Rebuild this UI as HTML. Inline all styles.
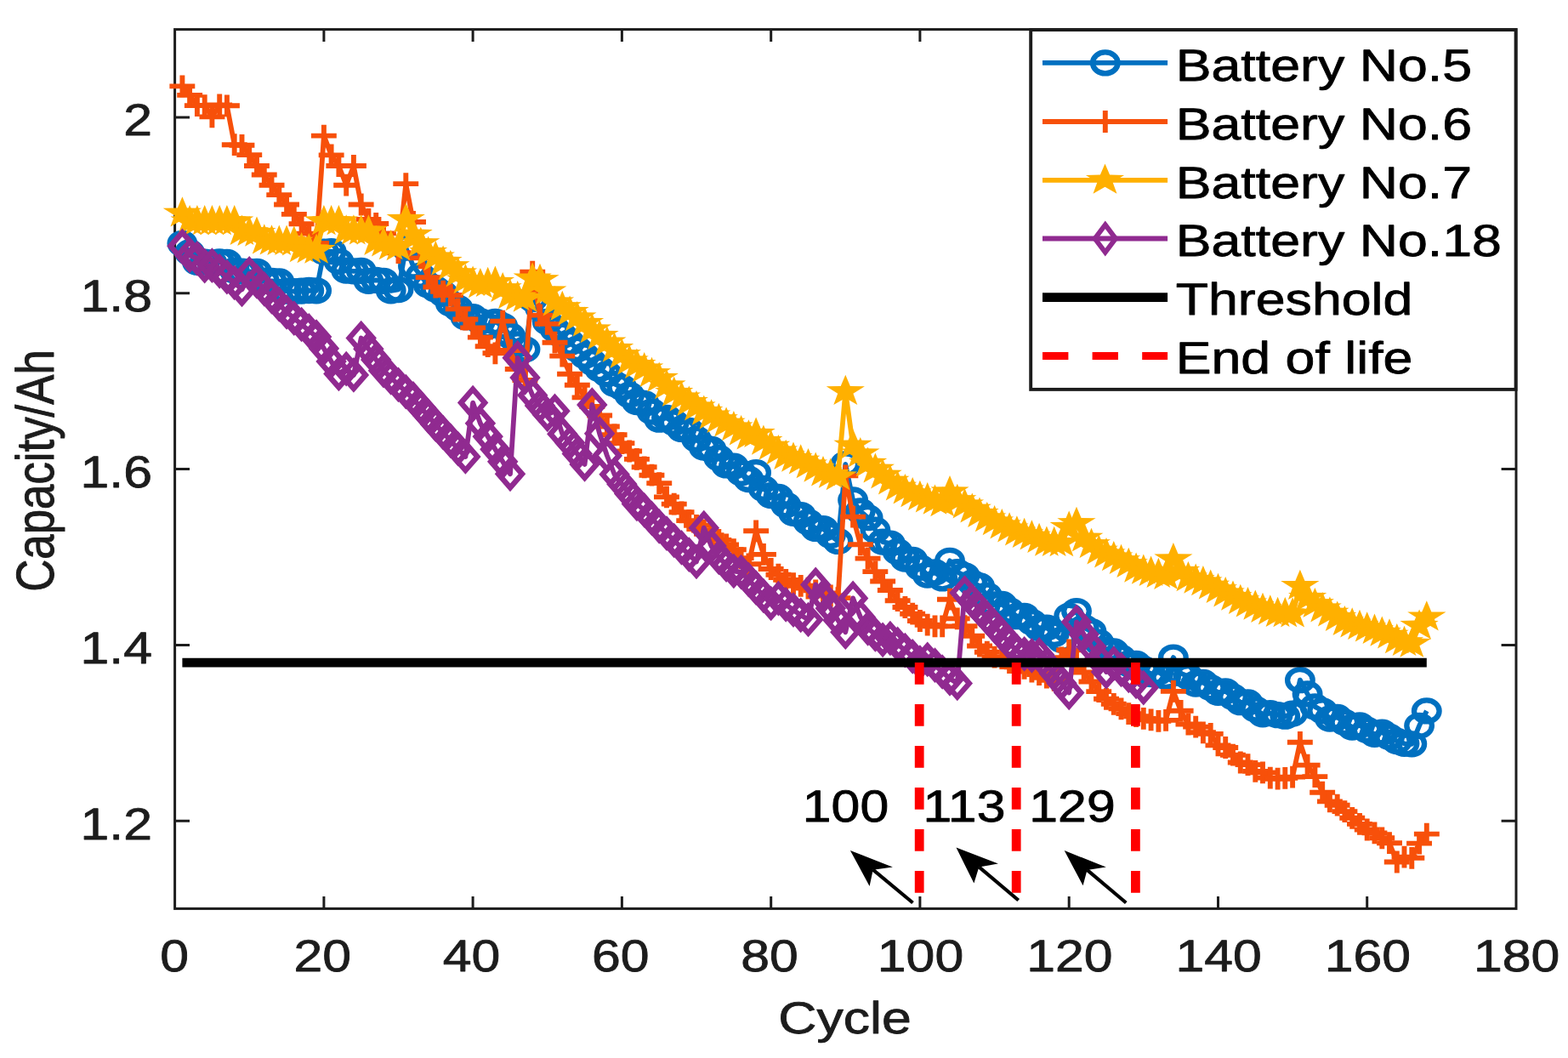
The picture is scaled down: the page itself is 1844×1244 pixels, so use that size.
<!DOCTYPE html>
<html lang="en"><head><meta charset="utf-8"><title>Battery capacity degradation</title>
<style>html,body{margin:0;padding:0;background:#fff;overflow:hidden}svg{display:block}text{font-family:"Liberation Sans",Arial,Helvetica,sans-serif;fill:#1c1c1c;stroke:#1c1c1c;stroke-width:0.8px;stroke-linejoin:round;text-rendering:geometricPrecision}text.k{fill:#000;stroke:#000}</style></head><body>
<svg width="1844" height="1244" viewBox="0 0 1844 1244">
<rect x="0" y="0" width="1844" height="1244" fill="#fff"/>
<g fill="none" stroke="#1c1c1c" stroke-width="3.0" stroke-linecap="butt">
<rect x="205.6" y="34.6" width="1577.4" height="1033.8"/>
<path d="M380.9 1068.4v-14.4M380.9 34.6v14.4M556.1 1068.4v-14.4M556.1 34.6v14.4M731.4 1068.4v-14.4M731.4 34.6v14.4M906.7 1068.4v-14.4M906.7 34.6v14.4M1081.9 1068.4v-14.4M1081.9 34.6v14.4M1257.2 1068.4v-14.4M1257.2 34.6v14.4M1432.5 1068.4v-14.4M1432.5 34.6v14.4M1607.7 1068.4v-14.4M1607.7 34.6v14.4M205.6 965.3h17.4M1783 965.3h-17.4M205.6 758.5h17.4M1783 758.5h-17.4M205.6 551.6h17.4M1783 551.6h-17.4M205.6 344.7h17.4M1783 344.7h-17.4M205.6 137.9h17.4M1783 137.9h-17.4"/>
</g>
<g fill="none" stroke="#0070C0" stroke-miterlimit="10">
<polyline stroke-width="5.8" stroke-linejoin="round" points="214.4,286.3 223.1,296.9 231.9,308.2 240.7,308.2 249.4,309 258.2,307.8 266.9,308.4 275.7,318.1 284.5,319.1 293.2,319.3 302,319.3 310.8,330.1 319.5,330.5 328.3,330.9 337.1,342.1 345.8,342.6 354.6,342.1 363.3,341.5 372.1,341.8 380.9,296.1 389.6,295.7 398.4,307.3 407.2,318.1 415.9,318.8 424.7,318.3 433.4,330.3 442.2,329.4 451,330.3 459.7,341.8 468.5,340.5 477.3,291.2 486,313 494.8,324.2 503.6,335.1 512.3,340 521.1,345.4 529.8,356.7 538.6,362.4 547.4,372.7 556.1,372.7 564.9,377.9 573.7,383.7 582.4,378.3 591.2,383.3 600,394.7 608.7,404.8 617.5,410.8 626.2,351.4 635,362.1 643.8,378.5 652.5,387.1 661.3,394.4 670.1,402.7 678.8,410.4 687.6,418.2 696.3,425.9 705.1,433.7 713.9,439.7 722.6,451.3 731.4,455.6 740.2,464.3 748.9,472.5 757.7,474.4 766.5,484 775.2,493.2 784,491.3 792.7,497.1 801.5,504.4 810.3,506.5 819,516.3 827.8,525.9 836.6,528.4 845.3,538.5 854.1,546.9 862.9,548.2 871.6,556.1 880.4,563.5 889.1,555.7 897.9,574.4 906.7,582.6 915.4,584.4 924.2,593.8 933,603.3 941.7,605.6 950.5,613.8 959.2,621.4 968,621.6 976.8,629.5 985.5,636.4 994.3,545.8 1003.1,588 1011.8,601 1020.6,608.7 1029.4,623.2 1038.1,637.1 1046.9,639.1 1055.6,648.7 1064.4,657.1 1073.2,658.3 1081.9,667.3 1090.7,676.1 1099.5,673 1108.2,679.9 1117,659.3 1125.8,672.6 1134.5,676.8 1143.3,685.3 1152,688.9 1160.8,700.1 1169.6,710.9 1178.3,710.5 1187.1,717.8 1195.9,724.7 1204.6,724.3 1213.4,731.6 1222.1,738.5 1230.9,738.1 1239.7,745.4 1248.4,752.3 1257.2,724.3 1266,718.6 1274.7,737.8 1283.5,742.6 1292.3,755.2 1301,764.1 1309.8,765.9 1318.5,773.5 1327.3,780.5 1336.1,780.4 1344.8,786.7 1353.6,792.6 1362.4,790.2 1371.1,795.5 1379.9,773.1 1388.6,791.6 1397.4,795.5 1406.2,804 1414.9,802.4 1423.7,808.6 1432.5,814.3 1441.2,812.8 1450,819.5 1458.8,825.7 1467.5,825.9 1476.3,833.8 1485,839.8 1493.8,838.6 1502.6,840.7 1511.3,842.2 1520.1,839.1 1528.9,799.7 1537.6,815.9 1546.4,830.9 1555.2,835.8 1563.9,845.1 1572.7,843.4 1581.4,849.5 1590.2,855 1599,852.8 1607.7,858.4 1616.5,863.3 1625.3,861.1 1634,866.5 1642.8,871.5 1651.5,874.3 1660.3,874.8 1669.1,853.3 1677.8,835.9"/>
<g stroke-width="6.3">
<ellipse cx="214.4" cy="286.3" rx="14.8" ry="12.5"/>
<ellipse cx="223.1" cy="296.9" rx="14.8" ry="12.5"/>
<ellipse cx="231.9" cy="308.2" rx="14.8" ry="12.5"/>
<ellipse cx="240.7" cy="308.2" rx="14.8" ry="12.5"/>
<ellipse cx="249.4" cy="309" rx="14.8" ry="12.5"/>
<ellipse cx="258.2" cy="307.8" rx="14.8" ry="12.5"/>
<ellipse cx="266.9" cy="308.4" rx="14.8" ry="12.5"/>
<ellipse cx="275.7" cy="318.1" rx="14.8" ry="12.5"/>
<ellipse cx="284.5" cy="319.1" rx="14.8" ry="12.5"/>
<ellipse cx="293.2" cy="319.3" rx="14.8" ry="12.5"/>
<ellipse cx="302" cy="319.3" rx="14.8" ry="12.5"/>
<ellipse cx="310.8" cy="330.1" rx="14.8" ry="12.5"/>
<ellipse cx="319.5" cy="330.5" rx="14.8" ry="12.5"/>
<ellipse cx="328.3" cy="330.9" rx="14.8" ry="12.5"/>
<ellipse cx="337.1" cy="342.1" rx="14.8" ry="12.5"/>
<ellipse cx="345.8" cy="342.6" rx="14.8" ry="12.5"/>
<ellipse cx="354.6" cy="342.1" rx="14.8" ry="12.5"/>
<ellipse cx="363.3" cy="341.5" rx="14.8" ry="12.5"/>
<ellipse cx="372.1" cy="341.8" rx="14.8" ry="12.5"/>
<ellipse cx="380.9" cy="296.1" rx="14.8" ry="12.5"/>
<ellipse cx="389.6" cy="295.7" rx="14.8" ry="12.5"/>
<ellipse cx="398.4" cy="307.3" rx="14.8" ry="12.5"/>
<ellipse cx="407.2" cy="318.1" rx="14.8" ry="12.5"/>
<ellipse cx="415.9" cy="318.8" rx="14.8" ry="12.5"/>
<ellipse cx="424.7" cy="318.3" rx="14.8" ry="12.5"/>
<ellipse cx="433.4" cy="330.3" rx="14.8" ry="12.5"/>
<ellipse cx="442.2" cy="329.4" rx="14.8" ry="12.5"/>
<ellipse cx="451" cy="330.3" rx="14.8" ry="12.5"/>
<ellipse cx="459.7" cy="341.8" rx="14.8" ry="12.5"/>
<ellipse cx="468.5" cy="340.5" rx="14.8" ry="12.5"/>
<ellipse cx="477.3" cy="291.2" rx="14.8" ry="12.5"/>
<ellipse cx="486" cy="313" rx="14.8" ry="12.5"/>
<ellipse cx="494.8" cy="324.2" rx="14.8" ry="12.5"/>
<ellipse cx="503.6" cy="335.1" rx="14.8" ry="12.5"/>
<ellipse cx="512.3" cy="340" rx="14.8" ry="12.5"/>
<ellipse cx="521.1" cy="345.4" rx="14.8" ry="12.5"/>
<ellipse cx="529.8" cy="356.7" rx="14.8" ry="12.5"/>
<ellipse cx="538.6" cy="362.4" rx="14.8" ry="12.5"/>
<ellipse cx="547.4" cy="372.7" rx="14.8" ry="12.5"/>
<ellipse cx="556.1" cy="372.7" rx="14.8" ry="12.5"/>
<ellipse cx="564.9" cy="377.9" rx="14.8" ry="12.5"/>
<ellipse cx="573.7" cy="383.7" rx="14.8" ry="12.5"/>
<ellipse cx="582.4" cy="378.3" rx="14.8" ry="12.5"/>
<ellipse cx="591.2" cy="383.3" rx="14.8" ry="12.5"/>
<ellipse cx="600" cy="394.7" rx="14.8" ry="12.5"/>
<ellipse cx="608.7" cy="404.8" rx="14.8" ry="12.5"/>
<ellipse cx="617.5" cy="410.8" rx="14.8" ry="12.5"/>
<ellipse cx="626.2" cy="351.4" rx="14.8" ry="12.5"/>
<ellipse cx="635" cy="362.1" rx="14.8" ry="12.5"/>
<ellipse cx="643.8" cy="378.5" rx="14.8" ry="12.5"/>
<ellipse cx="652.5" cy="387.1" rx="14.8" ry="12.5"/>
<ellipse cx="661.3" cy="394.4" rx="14.8" ry="12.5"/>
<ellipse cx="670.1" cy="402.7" rx="14.8" ry="12.5"/>
<ellipse cx="678.8" cy="410.4" rx="14.8" ry="12.5"/>
<ellipse cx="687.6" cy="418.2" rx="14.8" ry="12.5"/>
<ellipse cx="696.3" cy="425.9" rx="14.8" ry="12.5"/>
<ellipse cx="705.1" cy="433.7" rx="14.8" ry="12.5"/>
<ellipse cx="713.9" cy="439.7" rx="14.8" ry="12.5"/>
<ellipse cx="722.6" cy="451.3" rx="14.8" ry="12.5"/>
<ellipse cx="731.4" cy="455.6" rx="14.8" ry="12.5"/>
<ellipse cx="740.2" cy="464.3" rx="14.8" ry="12.5"/>
<ellipse cx="748.9" cy="472.5" rx="14.8" ry="12.5"/>
<ellipse cx="757.7" cy="474.4" rx="14.8" ry="12.5"/>
<ellipse cx="766.5" cy="484" rx="14.8" ry="12.5"/>
<ellipse cx="775.2" cy="493.2" rx="14.8" ry="12.5"/>
<ellipse cx="784" cy="491.3" rx="14.8" ry="12.5"/>
<ellipse cx="792.7" cy="497.1" rx="14.8" ry="12.5"/>
<ellipse cx="801.5" cy="504.4" rx="14.8" ry="12.5"/>
<ellipse cx="810.3" cy="506.5" rx="14.8" ry="12.5"/>
<ellipse cx="819" cy="516.3" rx="14.8" ry="12.5"/>
<ellipse cx="827.8" cy="525.9" rx="14.8" ry="12.5"/>
<ellipse cx="836.6" cy="528.4" rx="14.8" ry="12.5"/>
<ellipse cx="845.3" cy="538.5" rx="14.8" ry="12.5"/>
<ellipse cx="854.1" cy="546.9" rx="14.8" ry="12.5"/>
<ellipse cx="862.9" cy="548.2" rx="14.8" ry="12.5"/>
<ellipse cx="871.6" cy="556.1" rx="14.8" ry="12.5"/>
<ellipse cx="880.4" cy="563.5" rx="14.8" ry="12.5"/>
<ellipse cx="889.1" cy="555.7" rx="14.8" ry="12.5"/>
<ellipse cx="897.9" cy="574.4" rx="14.8" ry="12.5"/>
<ellipse cx="906.7" cy="582.6" rx="14.8" ry="12.5"/>
<ellipse cx="915.4" cy="584.4" rx="14.8" ry="12.5"/>
<ellipse cx="924.2" cy="593.8" rx="14.8" ry="12.5"/>
<ellipse cx="933" cy="603.3" rx="14.8" ry="12.5"/>
<ellipse cx="941.7" cy="605.6" rx="14.8" ry="12.5"/>
<ellipse cx="950.5" cy="613.8" rx="14.8" ry="12.5"/>
<ellipse cx="959.2" cy="621.4" rx="14.8" ry="12.5"/>
<ellipse cx="968" cy="621.6" rx="14.8" ry="12.5"/>
<ellipse cx="976.8" cy="629.5" rx="14.8" ry="12.5"/>
<ellipse cx="985.5" cy="636.4" rx="14.8" ry="12.5"/>
<ellipse cx="994.3" cy="545.8" rx="14.8" ry="12.5"/>
<ellipse cx="1003.1" cy="588" rx="14.8" ry="12.5"/>
<ellipse cx="1011.8" cy="601" rx="14.8" ry="12.5"/>
<ellipse cx="1020.6" cy="608.7" rx="14.8" ry="12.5"/>
<ellipse cx="1029.4" cy="623.2" rx="14.8" ry="12.5"/>
<ellipse cx="1038.1" cy="637.1" rx="14.8" ry="12.5"/>
<ellipse cx="1046.9" cy="639.1" rx="14.8" ry="12.5"/>
<ellipse cx="1055.6" cy="648.7" rx="14.8" ry="12.5"/>
<ellipse cx="1064.4" cy="657.1" rx="14.8" ry="12.5"/>
<ellipse cx="1073.2" cy="658.3" rx="14.8" ry="12.5"/>
<ellipse cx="1081.9" cy="667.3" rx="14.8" ry="12.5"/>
<ellipse cx="1090.7" cy="676.1" rx="14.8" ry="12.5"/>
<ellipse cx="1099.5" cy="673" rx="14.8" ry="12.5"/>
<ellipse cx="1108.2" cy="679.9" rx="14.8" ry="12.5"/>
<ellipse cx="1117" cy="659.3" rx="14.8" ry="12.5"/>
<ellipse cx="1125.8" cy="672.6" rx="14.8" ry="12.5"/>
<ellipse cx="1134.5" cy="676.8" rx="14.8" ry="12.5"/>
<ellipse cx="1143.3" cy="685.3" rx="14.8" ry="12.5"/>
<ellipse cx="1152" cy="688.9" rx="14.8" ry="12.5"/>
<ellipse cx="1160.8" cy="700.1" rx="14.8" ry="12.5"/>
<ellipse cx="1169.6" cy="710.9" rx="14.8" ry="12.5"/>
<ellipse cx="1178.3" cy="710.5" rx="14.8" ry="12.5"/>
<ellipse cx="1187.1" cy="717.8" rx="14.8" ry="12.5"/>
<ellipse cx="1195.9" cy="724.7" rx="14.8" ry="12.5"/>
<ellipse cx="1204.6" cy="724.3" rx="14.8" ry="12.5"/>
<ellipse cx="1213.4" cy="731.6" rx="14.8" ry="12.5"/>
<ellipse cx="1222.1" cy="738.5" rx="14.8" ry="12.5"/>
<ellipse cx="1230.9" cy="738.1" rx="14.8" ry="12.5"/>
<ellipse cx="1239.7" cy="745.4" rx="14.8" ry="12.5"/>
<ellipse cx="1248.4" cy="752.3" rx="14.8" ry="12.5"/>
<ellipse cx="1257.2" cy="724.3" rx="14.8" ry="12.5"/>
<ellipse cx="1266" cy="718.6" rx="14.8" ry="12.5"/>
<ellipse cx="1274.7" cy="737.8" rx="14.8" ry="12.5"/>
<ellipse cx="1283.5" cy="742.6" rx="14.8" ry="12.5"/>
<ellipse cx="1292.3" cy="755.2" rx="14.8" ry="12.5"/>
<ellipse cx="1301" cy="764.1" rx="14.8" ry="12.5"/>
<ellipse cx="1309.8" cy="765.9" rx="14.8" ry="12.5"/>
<ellipse cx="1318.5" cy="773.5" rx="14.8" ry="12.5"/>
<ellipse cx="1327.3" cy="780.5" rx="14.8" ry="12.5"/>
<ellipse cx="1336.1" cy="780.4" rx="14.8" ry="12.5"/>
<ellipse cx="1344.8" cy="786.7" rx="14.8" ry="12.5"/>
<ellipse cx="1353.6" cy="792.6" rx="14.8" ry="12.5"/>
<ellipse cx="1362.4" cy="790.2" rx="14.8" ry="12.5"/>
<ellipse cx="1371.1" cy="795.5" rx="14.8" ry="12.5"/>
<ellipse cx="1379.9" cy="773.1" rx="14.8" ry="12.5"/>
<ellipse cx="1388.6" cy="791.6" rx="14.8" ry="12.5"/>
<ellipse cx="1397.4" cy="795.5" rx="14.8" ry="12.5"/>
<ellipse cx="1406.2" cy="804" rx="14.8" ry="12.5"/>
<ellipse cx="1414.9" cy="802.4" rx="14.8" ry="12.5"/>
<ellipse cx="1423.7" cy="808.6" rx="14.8" ry="12.5"/>
<ellipse cx="1432.5" cy="814.3" rx="14.8" ry="12.5"/>
<ellipse cx="1441.2" cy="812.8" rx="14.8" ry="12.5"/>
<ellipse cx="1450" cy="819.5" rx="14.8" ry="12.5"/>
<ellipse cx="1458.8" cy="825.7" rx="14.8" ry="12.5"/>
<ellipse cx="1467.5" cy="825.9" rx="14.8" ry="12.5"/>
<ellipse cx="1476.3" cy="833.8" rx="14.8" ry="12.5"/>
<ellipse cx="1485" cy="839.8" rx="14.8" ry="12.5"/>
<ellipse cx="1493.8" cy="838.6" rx="14.8" ry="12.5"/>
<ellipse cx="1502.6" cy="840.7" rx="14.8" ry="12.5"/>
<ellipse cx="1511.3" cy="842.2" rx="14.8" ry="12.5"/>
<ellipse cx="1520.1" cy="839.1" rx="14.8" ry="12.5"/>
<ellipse cx="1528.9" cy="799.7" rx="14.8" ry="12.5"/>
<ellipse cx="1537.6" cy="815.9" rx="14.8" ry="12.5"/>
<ellipse cx="1546.4" cy="830.9" rx="14.8" ry="12.5"/>
<ellipse cx="1555.2" cy="835.8" rx="14.8" ry="12.5"/>
<ellipse cx="1563.9" cy="845.1" rx="14.8" ry="12.5"/>
<ellipse cx="1572.7" cy="843.4" rx="14.8" ry="12.5"/>
<ellipse cx="1581.4" cy="849.5" rx="14.8" ry="12.5"/>
<ellipse cx="1590.2" cy="855" rx="14.8" ry="12.5"/>
<ellipse cx="1599" cy="852.8" rx="14.8" ry="12.5"/>
<ellipse cx="1607.7" cy="858.4" rx="14.8" ry="12.5"/>
<ellipse cx="1616.5" cy="863.3" rx="14.8" ry="12.5"/>
<ellipse cx="1625.3" cy="861.1" rx="14.8" ry="12.5"/>
<ellipse cx="1634" cy="866.5" rx="14.8" ry="12.5"/>
<ellipse cx="1642.8" cy="871.5" rx="14.8" ry="12.5"/>
<ellipse cx="1651.5" cy="874.3" rx="14.8" ry="12.5"/>
<ellipse cx="1660.3" cy="874.8" rx="14.8" ry="12.5"/>
<ellipse cx="1669.1" cy="853.3" rx="14.8" ry="12.5"/>
<ellipse cx="1677.8" cy="835.9" rx="14.8" ry="12.5"/>
</g></g>
<g fill="none" stroke="#F7500A" stroke-miterlimit="10">
<polyline stroke-width="5.8" stroke-linejoin="round" points="214.4,101.4 223.1,111.9 231.9,124.1 240.7,124.1 249.4,137.4 258.2,123.5 266.9,124.3 275.7,170.2 284.5,170.8 293.2,182.1 302,195 310.8,205.5 319.5,217.7 328.3,229.1 337.1,240.5 345.8,251.9 354.6,263.2 363.3,274.6 372.1,286 380.9,159.6 389.6,182.4 398.4,195 407.2,217.7 415.9,195 424.7,240.5 433.4,257.9 442.2,263 451,274.4 459.7,285.8 468.5,297.2 477.3,216.1 486,261 494.8,303.4 503.6,326.1 512.3,337.5 521.1,342.7 529.8,347 538.6,363.3 547.4,375.5 556.1,385.4 564.9,396.6 573.7,407.2 582.4,415.3 591.2,377.6 600,412 608.7,434 617.5,447 626.2,319.6 635,370.6 643.8,380.9 652.5,402.7 661.3,418.6 670.1,439.7 678.8,452.8 687.6,467.4 696.3,478 705.1,488.5 713.9,501.5 722.6,511.3 731.4,521.1 740.2,530.5 748.9,539.9 757.7,549.3 766.5,558.7 775.2,568.1 784,584.4 792.7,592.6 801.5,602.3 810.3,612.1 819,617.8 827.8,623.5 836.6,629.2 845.3,634.9 854.1,640.5 862.9,646.2 871.6,656.1 880.4,663.3 889.1,624.3 897.9,651.9 906.7,669 915.4,675.7 924.2,681.9 933,686.1 941.7,688.8 950.5,691.6 959.2,694.3 968,697.4 976.8,700.5 985.5,703.1 994.3,559.4 1003.1,607.6 1011.8,640.3 1020.6,656.6 1029.4,672.1 1038.1,683.5 1046.9,694 1055.6,706.2 1064.4,714 1073.2,721.7 1081.9,730 1090.7,734.7 1099.5,736.4 1108.2,736.4 1117,704.7 1125.8,727.4 1134.5,736.1 1143.3,747.8 1152,759.5 1160.8,766.7 1169.6,772.6 1178.3,774 1187.1,779.1 1195.9,784.3 1204.6,785.9 1213.4,789.5 1222.1,793.1 1230.9,796.7 1239.7,799.8 1248.4,773.3 1257.2,764.4 1266,779.1 1274.7,790.5 1283.5,801.5 1292.3,813.1 1301,821.8 1309.8,827.8 1318.5,833.4 1327.3,839.1 1336.1,842.2 1344.8,844.9 1353.6,846.4 1362.4,847.8 1371.1,846.9 1379.9,812.9 1388.6,835.8 1397.4,851.5 1406.2,854.6 1414.9,861.3 1423.7,862.9 1432.5,876.4 1441.2,879 1450,887.7 1458.8,896.5 1467.5,899.1 1476.3,906.9 1485,908.4 1493.8,914.6 1502.6,915.7 1511.3,914.9 1520.1,913.6 1528.9,872.8 1537.6,899.6 1546.4,913.1 1555.2,931.7 1563.9,942.4 1572.7,946.7 1581.4,954.1 1590.2,961.8 1599,968.9 1607.7,975.5 1616.5,979.4 1625.3,985.3 1634,991.2 1642.8,1013.5 1651.5,1007.7 1660.3,1008.8 1669.1,991.6 1677.8,980.6"/>
<g stroke-width="5.9">
<path d="M199.4 101.4h29.9M214.4 88.5v25.8"/>
<path d="M208.2 111.9h29.9M223.1 99v25.8"/>
<path d="M216.9 124.1h29.9M231.9 111.2v25.8"/>
<path d="M225.7 124.1h29.9M240.7 111.2v25.8"/>
<path d="M234.5 137.4h29.9M249.4 124.5v25.8"/>
<path d="M243.2 123.5h29.9M258.2 110.6v25.8"/>
<path d="M252 124.3h29.9M266.9 111.4v25.8"/>
<path d="M260.8 170.2h29.9M275.7 157.3v25.8"/>
<path d="M269.5 170.8h29.9M284.5 157.9v25.8"/>
<path d="M278.3 182.1h29.9M293.2 169.2v25.8"/>
<path d="M287 195h29.9M302 182.1v25.8"/>
<path d="M295.8 205.5h29.9M310.8 192.6v25.8"/>
<path d="M304.6 217.7h29.9M319.5 204.8v25.8"/>
<path d="M313.3 229.1h29.9M328.3 216.2v25.8"/>
<path d="M322.1 240.5h29.9M337.1 227.6v25.8"/>
<path d="M330.9 251.9h29.9M345.8 239v25.8"/>
<path d="M339.6 263.2h29.9M354.6 250.3v25.8"/>
<path d="M348.4 274.6h29.9M363.3 261.7v25.8"/>
<path d="M357.2 286h29.9M372.1 273.1v25.8"/>
<path d="M365.9 159.6h29.9M380.9 146.7v25.8"/>
<path d="M374.7 182.4h29.9M389.6 169.5v25.8"/>
<path d="M383.4 195h29.9M398.4 182.1v25.8"/>
<path d="M392.2 217.7h29.9M407.2 204.8v25.8"/>
<path d="M401 195h29.9M415.9 182.1v25.8"/>
<path d="M409.7 240.5h29.9M424.7 227.6v25.8"/>
<path d="M418.5 257.9h29.9M433.4 245v25.8"/>
<path d="M427.3 263h29.9M442.2 250.1v25.8"/>
<path d="M436 274.4h29.9M451 261.5v25.8"/>
<path d="M444.8 285.8h29.9M459.7 272.9v25.8"/>
<path d="M453.6 297.2h29.9M468.5 284.3v25.8"/>
<path d="M462.3 216.1h29.9M477.3 203.2v25.8"/>
<path d="M471.1 261h29.9M486 248.1v25.8"/>
<path d="M479.8 303.4h29.9M494.8 290.5v25.8"/>
<path d="M488.6 326.1h29.9M503.6 313.2v25.8"/>
<path d="M497.4 337.5h29.9M512.3 324.6v25.8"/>
<path d="M506.1 342.7h29.9M521.1 329.8v25.8"/>
<path d="M514.9 347h29.9M529.8 334.1v25.8"/>
<path d="M523.7 363.3h29.9M538.6 350.4v25.8"/>
<path d="M532.4 375.5h29.9M547.4 362.6v25.8"/>
<path d="M541.2 385.4h29.9M556.1 372.5v25.8"/>
<path d="M549.9 396.6h29.9M564.9 383.7v25.8"/>
<path d="M558.7 407.2h29.9M573.7 394.3v25.8"/>
<path d="M567.5 415.3h29.9M582.4 402.4v25.8"/>
<path d="M576.2 377.6h29.9M591.2 364.7v25.8"/>
<path d="M585 412h29.9M600 399.1v25.8"/>
<path d="M593.8 434h29.9M608.7 421.1v25.8"/>
<path d="M602.5 447h29.9M617.5 434.1v25.8"/>
<path d="M611.3 319.6h29.9M626.2 306.7v25.8"/>
<path d="M620.1 370.6h29.9M635 357.7v25.8"/>
<path d="M628.8 380.9h29.9M643.8 368v25.8"/>
<path d="M637.6 402.7h29.9M652.5 389.8v25.8"/>
<path d="M646.3 418.6h29.9M661.3 405.7v25.8"/>
<path d="M655.1 439.7h29.9M670.1 426.8v25.8"/>
<path d="M663.9 452.8h29.9M678.8 439.9v25.8"/>
<path d="M672.6 467.4h29.9M687.6 454.5v25.8"/>
<path d="M681.4 478h29.9M696.3 465.1v25.8"/>
<path d="M690.2 488.5h29.9M705.1 475.6v25.8"/>
<path d="M698.9 501.5h29.9M713.9 488.6v25.8"/>
<path d="M707.7 511.3h29.9M722.6 498.4v25.8"/>
<path d="M716.5 521.1h29.9M731.4 508.2v25.8"/>
<path d="M725.2 530.5h29.9M740.2 517.6v25.8"/>
<path d="M734 539.9h29.9M748.9 527v25.8"/>
<path d="M742.7 549.3h29.9M757.7 536.4v25.8"/>
<path d="M751.5 558.7h29.9M766.5 545.8v25.8"/>
<path d="M760.3 568.1h29.9M775.2 555.2v25.8"/>
<path d="M769 584.4h29.9M784 571.5v25.8"/>
<path d="M777.8 592.6h29.9M792.7 579.7v25.8"/>
<path d="M786.6 602.3h29.9M801.5 589.4v25.8"/>
<path d="M795.3 612.1h29.9M810.3 599.2v25.8"/>
<path d="M804.1 617.8h29.9M819 604.9v25.8"/>
<path d="M812.8 623.5h29.9M827.8 610.6v25.8"/>
<path d="M821.6 629.2h29.9M836.6 616.3v25.8"/>
<path d="M830.4 634.9h29.9M845.3 622v25.8"/>
<path d="M839.1 640.5h29.9M854.1 627.6v25.8"/>
<path d="M847.9 646.2h29.9M862.9 633.3v25.8"/>
<path d="M856.7 656.1h29.9M871.6 643.2v25.8"/>
<path d="M865.4 663.3h29.9M880.4 650.4v25.8"/>
<path d="M874.2 624.3h29.9M889.1 611.4v25.8"/>
<path d="M883 651.9h29.9M897.9 639v25.8"/>
<path d="M891.7 669h29.9M906.7 656.1v25.8"/>
<path d="M900.5 675.7h29.9M915.4 662.8v25.8"/>
<path d="M909.2 681.9h29.9M924.2 669v25.8"/>
<path d="M918 686.1h29.9M933 673.2v25.8"/>
<path d="M926.8 688.8h29.9M941.7 675.9v25.8"/>
<path d="M935.5 691.6h29.9M950.5 678.7v25.8"/>
<path d="M944.3 694.3h29.9M959.2 681.4v25.8"/>
<path d="M953.1 697.4h29.9M968 684.5v25.8"/>
<path d="M961.8 700.5h29.9M976.8 687.6v25.8"/>
<path d="M970.6 703.1h29.9M985.5 690.2v25.8"/>
<path d="M979.4 559.4h29.9M994.3 546.5v25.8"/>
<path d="M988.1 607.6h29.9M1003.1 594.7v25.8"/>
<path d="M996.9 640.3h29.9M1011.8 627.4v25.8"/>
<path d="M1005.6 656.6h29.9M1020.6 643.7v25.8"/>
<path d="M1014.4 672.1h29.9M1029.4 659.2v25.8"/>
<path d="M1023.2 683.5h29.9M1038.1 670.6v25.8"/>
<path d="M1031.9 694h29.9M1046.9 681.1v25.8"/>
<path d="M1040.7 706.2h29.9M1055.6 693.3v25.8"/>
<path d="M1049.5 714h29.9M1064.4 701.1v25.8"/>
<path d="M1058.2 721.7h29.9M1073.2 708.8v25.8"/>
<path d="M1067 730h29.9M1081.9 717.1v25.8"/>
<path d="M1075.7 734.7h29.9M1090.7 721.8v25.8"/>
<path d="M1084.5 736.4h29.9M1099.5 723.5v25.8"/>
<path d="M1093.3 736.4h29.9M1108.2 723.5v25.8"/>
<path d="M1102 704.7h29.9M1117 691.8v25.8"/>
<path d="M1110.8 727.4h29.9M1125.8 714.5v25.8"/>
<path d="M1119.6 736.1h29.9M1134.5 723.2v25.8"/>
<path d="M1128.3 747.8h29.9M1143.3 734.9v25.8"/>
<path d="M1137.1 759.5h29.9M1152 746.6v25.8"/>
<path d="M1145.9 766.7h29.9M1160.8 753.8v25.8"/>
<path d="M1154.6 772.6h29.9M1169.6 759.7v25.8"/>
<path d="M1163.4 774h29.9M1178.3 761.1v25.8"/>
<path d="M1172.1 779.1h29.9M1187.1 766.2v25.8"/>
<path d="M1180.9 784.3h29.9M1195.9 771.4v25.8"/>
<path d="M1189.7 785.9h29.9M1204.6 773v25.8"/>
<path d="M1198.4 789.5h29.9M1213.4 776.6v25.8"/>
<path d="M1207.2 793.1h29.9M1222.1 780.2v25.8"/>
<path d="M1216 796.7h29.9M1230.9 783.8v25.8"/>
<path d="M1224.7 799.8h29.9M1239.7 786.9v25.8"/>
<path d="M1233.5 773.3h29.9M1248.4 760.4v25.8"/>
<path d="M1242.2 764.4h29.9M1257.2 751.5v25.8"/>
<path d="M1251 779.1h29.9M1266 766.2v25.8"/>
<path d="M1259.8 790.5h29.9M1274.7 777.6v25.8"/>
<path d="M1268.5 801.5h29.9M1283.5 788.6v25.8"/>
<path d="M1277.3 813.1h29.9M1292.3 800.2v25.8"/>
<path d="M1286.1 821.8h29.9M1301 808.9v25.8"/>
<path d="M1294.8 827.8h29.9M1309.8 814.9v25.8"/>
<path d="M1303.6 833.4h29.9M1318.5 820.5v25.8"/>
<path d="M1312.4 839.1h29.9M1327.3 826.2v25.8"/>
<path d="M1321.1 842.2h29.9M1336.1 829.3v25.8"/>
<path d="M1329.9 844.9h29.9M1344.8 832v25.8"/>
<path d="M1338.6 846.4h29.9M1353.6 833.5v25.8"/>
<path d="M1347.4 847.8h29.9M1362.4 834.9v25.8"/>
<path d="M1356.2 846.9h29.9M1371.1 834v25.8"/>
<path d="M1364.9 812.9h29.9M1379.9 800v25.8"/>
<path d="M1373.7 835.8h29.9M1388.6 822.9v25.8"/>
<path d="M1382.5 851.5h29.9M1397.4 838.6v25.8"/>
<path d="M1391.2 854.6h29.9M1406.2 841.7v25.8"/>
<path d="M1400 861.3h29.9M1414.9 848.4v25.8"/>
<path d="M1408.8 862.9h29.9M1423.7 850v25.8"/>
<path d="M1417.5 876.4h29.9M1432.5 863.5v25.8"/>
<path d="M1426.3 879h29.9M1441.2 866.1v25.8"/>
<path d="M1435 887.7h29.9M1450 874.8v25.8"/>
<path d="M1443.8 896.5h29.9M1458.8 883.6v25.8"/>
<path d="M1452.6 899.1h29.9M1467.5 886.2v25.8"/>
<path d="M1461.3 906.9h29.9M1476.3 894v25.8"/>
<path d="M1470.1 908.4h29.9M1485 895.5v25.8"/>
<path d="M1478.9 914.6h29.9M1493.8 901.7v25.8"/>
<path d="M1487.6 915.7h29.9M1502.6 902.8v25.8"/>
<path d="M1496.4 914.9h29.9M1511.3 902v25.8"/>
<path d="M1505.1 913.6h29.9M1520.1 900.7v25.8"/>
<path d="M1513.9 872.8h29.9M1528.9 859.9v25.8"/>
<path d="M1522.7 899.6h29.9M1537.6 886.7v25.8"/>
<path d="M1531.4 913.1h29.9M1546.4 900.2v25.8"/>
<path d="M1540.2 931.7h29.9M1555.2 918.8v25.8"/>
<path d="M1549 942.4h29.9M1563.9 929.5v25.8"/>
<path d="M1557.7 946.7h29.9M1572.7 933.8v25.8"/>
<path d="M1566.5 954.1h29.9M1581.4 941.2v25.8"/>
<path d="M1575.3 961.8h29.9M1590.2 948.9v25.8"/>
<path d="M1584 968.9h29.9M1599 956v25.8"/>
<path d="M1592.8 975.5h29.9M1607.7 962.6v25.8"/>
<path d="M1601.5 979.4h29.9M1616.5 966.5v25.8"/>
<path d="M1610.3 985.3h29.9M1625.3 972.4v25.8"/>
<path d="M1619.1 991.2h29.9M1634 978.3v25.8"/>
<path d="M1627.8 1013.5h29.9M1642.8 1000.6v25.8"/>
<path d="M1636.6 1007.7h29.9M1651.5 994.8v25.8"/>
<path d="M1645.4 1008.8h29.9M1660.3 995.9v25.8"/>
<path d="M1654.1 991.6h29.9M1669.1 978.7v25.8"/>
<path d="M1662.9 980.6h29.9M1677.8 967.7v25.8"/>
</g></g>
<g fill="none" stroke="#FFB000" stroke-miterlimit="10">
<polyline stroke-width="5.8" stroke-linejoin="round" points="214.4,250.8 223.1,260.4 231.9,260.4 240.7,260.4 249.4,260.4 258.2,260.4 266.9,260.4 275.7,260.4 284.5,272.1 293.2,273.4 302,273.9 310.8,282.7 319.5,283.7 328.3,284.1 337.1,284.1 345.8,284.8 354.6,292.5 363.3,293.5 372.1,294.1 380.9,260.4 389.6,260.4 398.4,260.4 407.2,271.8 415.9,271.8 424.7,271.8 433.4,271.8 442.2,284.2 451,285.8 459.7,289.4 468.5,290.4 477.3,258.1 486,276 494.8,286.3 503.6,297.1 512.3,302.5 521.1,307.9 529.8,313.3 538.6,321.4 547.4,329.5 556.1,332 564.9,334.4 573.7,333.2 582.4,332 591.2,339.4 600,347.3 608.7,349.4 617.5,350.9 626.2,327.7 635,329.2 643.8,342.6 652.5,355.6 661.3,361.3 670.1,367 678.8,373.5 687.6,380 696.3,387.6 705.1,395.1 713.9,402.7 722.6,410 731.4,417.3 740.2,424.6 748.9,429.1 757.7,433.6 766.5,439.3 775.2,445 784,453.5 792.7,462.1 801.5,467.6 810.3,473.1 819,478.6 827.8,484.1 836.6,488.7 845.3,493.3 854.1,497.9 862.9,502.5 871.6,507.6 880.4,512.8 889.1,510.1 897.9,519 906.7,524.7 915.4,530.5 924.2,536.2 933,539 941.7,541.8 950.5,546.4 959.2,551 968,555.6 976.8,558 985.5,560.4 994.3,460.3 1003.1,523.8 1011.8,533.5 1020.6,544.9 1029.4,551.9 1038.1,558.8 1046.9,565.8 1055.6,572.8 1064.4,576.6 1073.2,580.4 1081.9,584.2 1090.7,586.6 1099.5,589 1108.2,591.4 1117,578.6 1125.8,588.3 1134.5,593.6 1143.3,598.9 1152,604.1 1160.8,609.4 1169.6,613.5 1178.3,617.6 1187.1,621.7 1195.9,625.8 1204.6,628.2 1213.4,630.7 1222.1,634.3 1230.9,638 1239.7,638.2 1248.4,638.4 1257.2,620.1 1266,615.2 1274.7,632.8 1283.5,640.3 1292.3,647.8 1301,651.6 1309.8,655.5 1318.5,659.3 1327.3,663.2 1336.1,669 1344.8,671.1 1353.6,673.1 1362.4,675.2 1371.1,677.3 1379.9,657.6 1388.6,672.1 1397.4,679.4 1406.2,682 1414.9,684.5 1423.7,688.9 1432.5,693.2 1441.2,697.6 1450,702 1458.8,706.3 1467.5,709.6 1476.3,712.9 1485,716.2 1493.8,718.7 1502.6,721.2 1511.3,721.5 1520.1,721.7 1528.9,689.2 1537.6,703.1 1546.4,710.4 1555.2,715.6 1563.9,720.9 1572.7,726.1 1581.4,731.4 1590.2,733.8 1599,736.2 1607.7,738.7 1616.5,741.1 1625.3,743.9 1634,746.8 1642.8,752.5 1651.5,755.3 1660.3,756.9 1669.1,735.9 1677.8,725.7"/>
<g fill="#FFB000" stroke="none">
<polygon points="214.4,231.3 220,244.5 237,244.8 223.4,253.2 228.4,266.6 214.4,258.6 200.4,266.6 205.3,253.2 191.7,244.8 208.8,244.5"/>
<polygon points="223.1,240.9 228.7,254.1 245.8,254.4 232.2,262.9 237.1,276.2 223.1,268.2 209.1,276.2 214.1,262.9 200.5,254.4 217.5,254.1"/>
<polygon points="231.9,240.9 237.5,254.1 254.5,254.4 240.9,262.9 245.9,276.2 231.9,268.2 217.9,276.2 222.8,262.9 209.3,254.4 226.3,254.1"/>
<polygon points="240.7,240.9 246.2,254.1 263.3,254.4 249.7,262.9 254.6,276.2 240.7,268.2 226.7,276.2 231.6,262.9 218,254.4 235.1,254.1"/>
<polygon points="249.4,240.9 255,254.1 272.1,254.4 258.5,262.9 263.4,276.2 249.4,268.2 235.4,276.2 240.4,262.9 226.8,254.4 243.8,254.1"/>
<polygon points="258.2,240.9 263.8,254.1 280.8,254.4 267.2,262.9 272.2,276.2 258.2,268.2 244.2,276.2 249.1,262.9 235.5,254.4 252.6,254.1"/>
<polygon points="266.9,240.9 272.5,254.1 289.6,254.4 276,262.9 280.9,276.2 266.9,268.2 253,276.2 257.9,262.9 244.3,254.4 261.3,254.1"/>
<polygon points="275.7,240.9 281.3,254.1 298.3,254.4 284.8,262.9 289.7,276.2 275.7,268.2 261.7,276.2 266.7,262.9 253.1,254.4 270.1,254.1"/>
<polygon points="284.5,252.6 290.1,265.8 307.1,266.1 293.5,274.5 298.5,287.9 284.5,279.9 270.5,287.9 275.4,274.5 261.8,266.1 278.9,265.8"/>
<polygon points="293.2,253.9 298.8,267.1 315.9,267.3 302.3,275.8 307.2,289.1 293.2,281.2 279.2,289.1 284.2,275.8 270.6,267.3 287.6,267.1"/>
<polygon points="302,254.4 307.6,267.6 324.6,267.9 311.1,276.3 316,289.7 302,281.7 288,289.7 292.9,276.3 279.4,267.9 296.4,267.6"/>
<polygon points="310.8,263.2 316.4,276.4 333.4,276.7 319.8,285.1 324.7,298.5 310.8,290.5 296.8,298.5 301.7,285.1 288.1,276.7 305.2,276.4"/>
<polygon points="319.5,264.2 325.1,277.4 342.2,277.7 328.6,286.1 333.5,299.5 319.5,291.5 305.5,299.5 310.5,286.1 296.9,277.7 313.9,277.4"/>
<polygon points="328.3,264.6 333.9,277.8 350.9,278.1 337.3,286.5 342.3,299.9 328.3,291.9 314.3,299.9 319.2,286.5 305.7,278.1 322.7,277.8"/>
<polygon points="337.1,264.6 342.6,277.8 359.7,278.1 346.1,286.5 351,299.9 337.1,291.9 323.1,299.9 328,286.5 314.4,278.1 331.5,277.8"/>
<polygon points="345.8,265.3 351.4,278.4 368.4,278.7 354.9,287.2 359.8,300.5 345.8,292.6 331.8,300.5 336.8,287.2 323.2,278.7 340.2,278.4"/>
<polygon points="354.6,273 360.2,286.2 377.2,286.5 363.6,294.9 368.6,308.3 354.6,300.3 340.6,308.3 345.5,294.9 331.9,286.5 349,286.2"/>
<polygon points="363.3,274 368.9,287.2 386,287.5 372.4,296 377.3,309.3 363.3,301.3 349.4,309.3 354.3,296 340.7,287.5 357.7,287.2"/>
<polygon points="372.1,274.6 377.7,287.7 394.7,288 381.2,296.5 386.1,309.8 372.1,301.9 358.1,309.8 363,296.5 349.5,288 366.5,287.7"/>
<polygon points="380.9,240.9 386.5,254.1 403.5,254.4 389.9,262.9 394.9,276.2 380.9,268.2 366.9,276.2 371.8,262.9 358.2,254.4 375.3,254.1"/>
<polygon points="389.6,240.9 395.2,254.1 412.3,254.4 398.7,262.9 403.6,276.2 389.6,268.2 375.6,276.2 380.6,262.9 367,254.4 384,254.1"/>
<polygon points="398.4,240.9 404,254.1 421,254.4 407.4,262.9 412.4,276.2 398.4,268.2 384.4,276.2 389.3,262.9 375.8,254.4 392.8,254.1"/>
<polygon points="407.2,252.3 412.8,265.5 429.8,265.8 416.2,274.2 421.1,287.6 407.2,279.6 393.2,287.6 398.1,274.2 384.5,265.8 401.6,265.5"/>
<polygon points="415.9,252.3 421.5,265.5 438.6,265.8 425,274.2 429.9,287.6 415.9,279.6 401.9,287.6 406.9,274.2 393.3,265.8 410.3,265.5"/>
<polygon points="424.7,252.3 430.3,265.5 447.3,265.8 433.7,274.2 438.7,287.6 424.7,279.6 410.7,287.6 415.6,274.2 402,265.8 419.1,265.5"/>
<polygon points="433.4,252.3 439,265.5 456.1,265.8 442.5,274.2 447.4,287.6 433.4,279.6 419.5,287.6 424.4,274.2 410.8,265.8 427.9,265.5"/>
<polygon points="442.2,264.7 447.8,277.9 464.8,278.2 451.3,286.6 456.2,300 442.2,292 428.2,300 433.2,286.6 419.6,278.2 436.6,277.9"/>
<polygon points="451,266.3 456.6,279.5 473.6,279.8 460,288.2 465,301.6 451,293.6 437,301.6 441.9,288.2 428.3,279.8 445.4,279.5"/>
<polygon points="459.7,269.9 465.3,283.1 482.4,283.4 468.8,291.8 473.7,305.2 459.7,297.2 445.7,305.2 450.7,291.8 437.1,283.4 454.1,283.1"/>
<polygon points="468.5,270.9 474.1,284.1 491.1,284.4 477.6,292.8 482.5,306.2 468.5,298.2 454.5,306.2 459.4,292.8 445.9,284.4 462.9,284.1"/>
<polygon points="477.3,238.6 482.9,251.8 499.9,252 486.3,260.5 491.3,273.8 477.3,265.9 463.3,273.8 468.2,260.5 454.6,252 471.7,251.8"/>
<polygon points="486,256.5 491.6,269.6 508.7,269.9 495.1,278.4 500,291.7 486,283.8 472,291.7 477,278.4 463.4,269.9 480.4,269.6"/>
<polygon points="494.8,266.8 500.4,280 517.4,280.3 503.8,288.7 508.8,302.1 494.8,294.1 480.8,302.1 485.7,288.7 472.2,280.3 489.2,280"/>
<polygon points="503.6,277.6 509.1,290.7 526.2,291 512.6,299.5 517.5,312.8 503.6,304.9 489.6,312.8 494.5,299.5 480.9,291 498,290.7"/>
<polygon points="512.3,283 517.9,296.2 535,296.4 521.4,304.9 526.3,318.2 512.3,310.3 498.3,318.2 503.3,304.9 489.7,296.4 506.7,296.2"/>
<polygon points="521.1,288.4 526.7,301.6 543.7,301.9 530.1,310.3 535.1,323.7 521.1,315.7 507.1,323.7 512,310.3 498.4,301.9 515.5,301.6"/>
<polygon points="529.8,293.8 535.4,307 552.5,307.3 538.9,315.7 543.8,329.1 529.8,321.1 515.9,329.1 520.8,315.7 507.2,307.3 524.2,307"/>
<polygon points="538.6,301.9 544.2,315.1 561.2,315.4 547.7,323.8 552.6,337.2 538.6,329.2 524.6,337.2 529.6,323.8 516,315.4 533,315.1"/>
<polygon points="547.4,310 553,323.2 570,323.5 556.4,331.9 561.4,345.3 547.4,337.3 533.4,345.3 538.3,331.9 524.7,323.5 541.8,323.2"/>
<polygon points="556.1,312.5 561.7,325.7 578.8,325.9 565.2,334.4 570.1,347.7 556.1,339.8 542.1,347.7 547.1,334.4 533.5,325.9 550.5,325.7"/>
<polygon points="564.9,314.9 570.5,328.1 587.5,328.4 574,336.8 578.9,350.2 564.9,342.2 550.9,350.2 555.8,336.8 542.3,328.4 559.3,328.1"/>
<polygon points="573.7,313.7 579.3,326.9 596.3,327.2 582.7,335.6 587.6,349 573.7,341 559.7,349 564.6,335.6 551,327.2 568.1,326.9"/>
<polygon points="582.4,312.5 588,325.7 605.1,326 591.5,334.4 596.4,347.8 582.4,339.8 568.4,347.8 573.4,334.4 559.8,326 576.8,325.7"/>
<polygon points="591.2,319.9 596.8,333.1 613.8,333.3 600.2,341.8 605.2,355.1 591.2,347.2 577.2,355.1 582.1,341.8 568.6,333.3 585.6,333.1"/>
<polygon points="600,327.8 605.5,341 622.6,341.3 609,349.7 613.9,363.1 600,355.1 586,363.1 590.9,349.7 577.3,341.3 594.4,341"/>
<polygon points="608.7,329.9 614.3,343.1 631.3,343.4 617.8,351.8 622.7,365.2 608.7,357.2 594.7,365.2 599.7,351.8 586.1,343.4 603.1,343.1"/>
<polygon points="617.5,331.4 623.1,344.6 640.1,344.9 626.5,353.4 631.5,366.7 617.5,358.7 603.5,366.7 608.4,353.4 594.8,344.9 611.9,344.6"/>
<polygon points="626.2,308.2 631.8,321.4 648.9,321.6 635.3,330.1 640.2,343.4 626.2,335.5 612.3,343.4 617.2,330.1 603.6,321.6 620.6,321.4"/>
<polygon points="635,309.7 640.6,322.9 657.6,323.2 644.1,331.6 649,345 635,337 621,345 625.9,331.6 612.4,323.2 629.4,322.9"/>
<polygon points="643.8,323.1 649.4,336.3 666.4,336.5 652.8,345 657.8,358.3 643.8,350.4 629.8,358.3 634.7,345 621.1,336.5 638.2,336.3"/>
<polygon points="652.5,336.1 658.1,349.3 675.2,349.6 661.6,358 666.5,371.4 652.5,363.4 638.5,371.4 643.5,358 629.9,349.6 646.9,349.3"/>
<polygon points="661.3,341.8 666.9,355 683.9,355.3 670.3,363.7 675.3,377.1 661.3,369.1 647.3,377.1 652.2,363.7 638.7,355.3 655.7,355"/>
<polygon points="670.1,347.5 675.7,360.7 692.7,361 679.1,369.4 684,382.8 670.1,374.8 656.1,382.8 661,369.4 647.4,361 664.5,360.7"/>
<polygon points="678.8,354 684.4,367.2 701.5,367.5 687.9,375.9 692.8,389.3 678.8,381.3 664.8,389.3 669.8,375.9 656.2,367.5 673.2,367.2"/>
<polygon points="687.6,360.5 693.2,373.7 710.2,374 696.6,382.4 701.6,395.8 687.6,387.8 673.6,395.8 678.5,382.4 664.9,374 682,373.7"/>
<polygon points="696.3,368.1 701.9,381.2 719,381.5 705.4,390 710.3,403.3 696.3,395.4 682.4,403.3 687.3,390 673.7,381.5 690.8,381.2"/>
<polygon points="705.1,375.6 710.7,388.8 727.7,389.1 714.2,397.5 719.1,410.9 705.1,402.9 691.1,410.9 696.1,397.5 682.5,389.1 699.5,388.8"/>
<polygon points="713.9,383.2 719.5,396.4 736.5,396.6 722.9,405.1 727.9,418.4 713.9,410.5 699.9,418.4 704.8,405.1 691.2,396.6 708.3,396.4"/>
<polygon points="722.6,390.5 728.2,403.7 745.3,403.9 731.7,412.4 736.6,425.7 722.6,417.8 708.6,425.7 713.6,412.4 700,403.9 717,403.7"/>
<polygon points="731.4,397.8 737,411 754,411.3 740.5,419.7 745.4,433.1 731.4,425.1 717.4,433.1 722.3,419.7 708.8,411.3 725.8,411"/>
<polygon points="740.2,405.1 745.8,418.3 762.8,418.6 749.2,427 754.2,440.4 740.2,432.4 726.2,440.4 731.1,427 717.5,418.6 734.6,418.3"/>
<polygon points="748.9,409.6 754.5,422.8 771.6,423.1 758,431.5 762.9,444.9 748.9,436.9 734.9,444.9 739.9,431.5 726.3,423.1 743.3,422.8"/>
<polygon points="757.7,414.1 763.3,427.3 780.3,427.6 766.7,436 771.7,449.4 757.7,441.4 743.7,449.4 748.6,436 735.1,427.6 752.1,427.3"/>
<polygon points="766.5,419.8 772,433 789.1,433.2 775.5,441.7 780.4,455.1 766.5,447.1 752.5,455.1 757.4,441.7 743.8,433.2 760.9,433"/>
<polygon points="775.2,425.5 780.8,438.7 797.9,438.9 784.3,447.4 789.2,460.7 775.2,452.8 761.2,460.7 766.2,447.4 752.6,438.9 769.6,438.7"/>
<polygon points="784,434 789.6,447.2 806.6,447.5 793,456 798,469.3 784,461.3 770,469.3 774.9,456 761.3,447.5 778.4,447.2"/>
<polygon points="792.7,442.6 798.3,455.8 815.4,456.1 801.8,464.5 806.7,477.9 792.7,469.9 778.8,477.9 783.7,464.5 770.1,456.1 787.1,455.8"/>
<polygon points="801.5,448.1 807.1,461.3 824.1,461.6 810.6,470 815.5,483.4 801.5,475.4 787.5,483.4 792.5,470 778.9,461.6 795.9,461.3"/>
<polygon points="810.3,453.6 815.9,466.8 832.9,467.1 819.3,475.5 824.3,488.9 810.3,480.9 796.3,488.9 801.2,475.5 787.6,467.1 804.7,466.8"/>
<polygon points="819,459.1 824.6,472.3 841.7,472.6 828.1,481 833,494.4 819,486.4 805,494.4 810,481 796.4,472.6 813.4,472.3"/>
<polygon points="827.8,464.6 833.4,477.7 850.4,478 836.9,486.5 841.8,499.8 827.8,491.9 813.8,499.8 818.7,486.5 805.2,478 822.2,477.7"/>
<polygon points="836.6,469.2 842.2,482.4 859.2,482.6 845.6,491.1 850.5,504.4 836.6,496.5 822.6,504.4 827.5,491.1 813.9,482.6 831,482.4"/>
<polygon points="845.3,473.8 850.9,487 868,487.2 854.4,495.7 859.3,509 845.3,501.1 831.3,509 836.3,495.7 822.7,487.2 839.7,487"/>
<polygon points="854.1,478.4 859.7,491.6 876.7,491.8 863.1,500.3 868.1,513.6 854.1,505.7 840.1,513.6 845,500.3 831.5,491.8 848.5,491.6"/>
<polygon points="862.9,483 868.4,496.2 885.5,496.4 871.9,504.9 876.8,518.2 862.9,510.3 848.9,518.2 853.8,504.9 840.2,496.4 857.3,496.2"/>
<polygon points="871.6,488.1 877.2,501.3 894.2,501.6 880.7,510.1 885.6,523.4 871.6,515.4 857.6,523.4 862.6,510.1 849,501.6 866,501.3"/>
<polygon points="880.4,493.3 886,506.5 903,506.8 889.4,515.2 894.4,528.6 880.4,520.6 866.4,528.6 871.3,515.2 857.7,506.8 874.8,506.5"/>
<polygon points="889.1,490.6 894.7,503.8 911.8,504.1 898.2,512.5 903.1,525.9 889.1,517.9 875.2,525.9 880.1,512.5 866.5,504.1 883.5,503.8"/>
<polygon points="897.9,499.5 903.5,512.7 920.5,513 907,521.4 911.9,534.8 897.9,526.8 883.9,534.8 888.8,521.4 875.3,513 892.3,512.7"/>
<polygon points="906.7,505.2 912.3,518.4 929.3,518.7 915.7,527.2 920.7,540.5 906.7,532.5 892.7,540.5 897.6,527.2 884,518.7 901.1,518.4"/>
<polygon points="915.4,511 921,524.2 938.1,524.4 924.5,532.9 929.4,546.2 915.4,538.3 901.4,546.2 906.4,532.9 892.8,524.4 909.8,524.2"/>
<polygon points="924.2,516.7 929.8,529.9 946.8,530.2 933.2,538.6 938.2,552 924.2,544 910.2,552 915.1,538.6 901.6,530.2 918.6,529.9"/>
<polygon points="933,519.5 938.6,532.7 955.6,533 942,541.4 946.9,554.8 933,546.8 919,554.8 923.9,541.4 910.3,533 927.4,532.7"/>
<polygon points="941.7,522.3 947.3,535.5 964.4,535.7 950.8,544.2 955.7,557.5 941.7,549.6 927.7,557.5 932.7,544.2 919.1,535.7 936.1,535.5"/>
<polygon points="950.5,526.9 956.1,540.1 973.1,540.4 959.5,548.8 964.5,562.2 950.5,554.2 936.5,562.2 941.4,548.8 927.8,540.4 944.9,540.1"/>
<polygon points="959.2,531.5 964.8,544.7 981.9,545 968.3,553.4 973.2,566.8 959.2,558.8 945.3,566.8 950.2,553.4 936.6,545 953.7,544.7"/>
<polygon points="968,536.1 973.6,549.3 990.6,549.6 977.1,558 982,571.4 968,563.4 954,571.4 959,558 945.4,549.6 962.4,549.3"/>
<polygon points="976.8,538.5 982.4,551.7 999.4,552 985.8,560.4 990.8,573.8 976.8,565.8 962.8,573.8 967.7,560.4 954.1,552 971.2,551.7"/>
<polygon points="985.5,540.9 991.1,554.1 1008.2,554.4 994.6,562.8 999.5,576.2 985.5,568.2 971.5,576.2 976.5,562.8 962.9,554.4 979.9,554.1"/>
<polygon points="994.3,440.8 999.9,454 1016.9,454.2 1003.4,462.7 1008.3,476 994.3,468.1 980.3,476 985.2,462.7 971.7,454.2 988.7,454"/>
<polygon points="1003.1,504.3 1008.7,517.5 1025.7,517.8 1012.1,526.2 1017.1,539.6 1003.1,531.6 989.1,539.6 994,526.2 980.4,517.8 997.5,517.5"/>
<polygon points="1011.8,514 1017.4,527.2 1034.5,527.5 1020.9,535.9 1025.8,549.3 1011.8,541.3 997.8,549.3 1002.8,535.9 989.2,527.5 1006.2,527.2"/>
<polygon points="1020.6,525.4 1026.2,538.6 1043.2,538.9 1029.6,547.3 1034.6,560.7 1020.6,552.7 1006.6,560.7 1011.5,547.3 998,538.9 1015,538.6"/>
<polygon points="1029.4,532.4 1034.9,545.5 1052,545.8 1038.4,554.3 1043.3,567.6 1029.4,559.7 1015.4,567.6 1020.3,554.3 1006.7,545.8 1023.8,545.5"/>
<polygon points="1038.1,539.3 1043.7,552.5 1060.8,552.8 1047.2,561.3 1052.1,574.6 1038.1,566.6 1024.1,574.6 1029.1,561.3 1015.5,552.8 1032.5,552.5"/>
<polygon points="1046.9,546.3 1052.5,559.5 1069.5,559.8 1055.9,568.2 1060.9,581.6 1046.9,573.6 1032.9,581.6 1037.8,568.2 1024.2,559.8 1041.3,559.5"/>
<polygon points="1055.6,553.3 1061.2,566.5 1078.3,566.8 1064.7,575.2 1069.6,588.6 1055.6,580.6 1041.7,588.6 1046.6,575.2 1033,566.8 1050,566.5"/>
<polygon points="1064.4,557.1 1070,570.3 1087,570.6 1073.5,579 1078.4,592.4 1064.4,584.4 1050.4,592.4 1055.4,579 1041.8,570.6 1058.8,570.3"/>
<polygon points="1073.2,560.9 1078.8,574.1 1095.8,574.4 1082.2,582.8 1087.2,596.2 1073.2,588.2 1059.2,596.2 1064.1,582.8 1050.5,574.4 1067.6,574.1"/>
<polygon points="1081.9,564.7 1087.5,577.9 1104.6,578.2 1091,586.6 1095.9,600 1081.9,592 1067.9,600 1072.9,586.6 1059.3,578.2 1076.3,577.9"/>
<polygon points="1090.7,567.1 1096.3,580.3 1113.3,580.6 1099.8,589 1104.7,602.4 1090.7,594.4 1076.7,602.4 1081.6,589 1068.1,580.6 1085.1,580.3"/>
<polygon points="1099.5,569.5 1105.1,582.7 1122.1,583 1108.5,591.4 1113.4,604.8 1099.5,596.8 1085.5,604.8 1090.4,591.4 1076.8,583 1093.9,582.7"/>
<polygon points="1108.2,571.9 1113.8,585.1 1130.9,585.4 1117.3,593.8 1122.2,607.2 1108.2,599.2 1094.2,607.2 1099.2,593.8 1085.6,585.4 1102.6,585.1"/>
<polygon points="1117,559.1 1122.6,572.3 1139.6,572.6 1126,581 1131,594.4 1117,586.4 1103,594.4 1107.9,581 1094.4,572.6 1111.4,572.3"/>
<polygon points="1125.8,568.8 1131.3,582 1148.4,582.3 1134.8,590.7 1139.7,604.1 1125.8,596.1 1111.8,604.1 1116.7,590.7 1103.1,582.3 1120.2,582"/>
<polygon points="1134.5,574.1 1140.1,587.3 1157.1,587.6 1143.6,596 1148.5,609.4 1134.5,601.4 1120.5,609.4 1125.5,596 1111.9,587.6 1128.9,587.3"/>
<polygon points="1143.3,579.4 1148.9,592.6 1165.9,592.8 1152.3,601.3 1157.3,614.6 1143.3,606.7 1129.3,614.6 1134.2,601.3 1120.6,592.8 1137.7,592.6"/>
<polygon points="1152,584.6 1157.6,597.8 1174.7,598.1 1161.1,606.6 1166,619.9 1152,611.9 1138.1,619.9 1143,606.6 1129.4,598.1 1146.4,597.8"/>
<polygon points="1160.8,589.9 1166.4,603.1 1183.4,603.4 1169.9,611.8 1174.8,625.2 1160.8,617.2 1146.8,625.2 1151.7,611.8 1138.2,603.4 1155.2,603.1"/>
<polygon points="1169.6,594 1175.2,607.2 1192.2,607.5 1178.6,615.9 1183.6,629.3 1169.6,621.3 1155.6,629.3 1160.5,615.9 1146.9,607.5 1164,607.2"/>
<polygon points="1178.3,598.1 1183.9,611.3 1201,611.6 1187.4,620 1192.3,633.4 1178.3,625.4 1164.3,633.4 1169.3,620 1155.7,611.6 1172.7,611.3"/>
<polygon points="1187.1,602.2 1192.7,615.4 1209.7,615.6 1196.1,624.1 1201.1,637.4 1187.1,629.5 1173.1,637.4 1178,624.1 1164.5,615.6 1181.5,615.4"/>
<polygon points="1195.9,606.3 1201.5,619.4 1218.5,619.7 1204.9,628.2 1209.8,641.5 1195.9,633.6 1181.9,641.5 1186.8,628.2 1173.2,619.7 1190.3,619.4"/>
<polygon points="1204.6,608.7 1210.2,621.9 1227.3,622.2 1213.7,630.7 1218.6,644 1204.6,636 1190.6,644 1195.6,630.7 1182,622.2 1199,621.9"/>
<polygon points="1213.4,611.2 1219,624.4 1236,624.7 1222.4,633.1 1227.4,646.5 1213.4,638.5 1199.4,646.5 1204.3,633.1 1190.7,624.7 1207.8,624.4"/>
<polygon points="1222.1,614.8 1227.7,628 1244.8,628.3 1231.2,636.8 1236.1,650.1 1222.1,642.1 1208.2,650.1 1213.1,636.8 1199.5,628.3 1216.6,628"/>
<polygon points="1230.9,618.5 1236.5,631.7 1253.5,631.9 1240,640.4 1244.9,653.7 1230.9,645.8 1216.9,653.7 1221.9,640.4 1208.3,631.9 1225.3,631.7"/>
<polygon points="1239.7,618.7 1245.3,631.9 1262.3,632.1 1248.7,640.6 1253.7,653.9 1239.7,646 1225.7,653.9 1230.6,640.6 1217,632.1 1234.1,631.9"/>
<polygon points="1248.4,618.9 1254,632.1 1271.1,632.4 1257.5,640.8 1262.4,654.2 1248.4,646.2 1234.4,654.2 1239.4,640.8 1225.8,632.4 1242.8,632.1"/>
<polygon points="1257.2,600.6 1262.8,613.8 1279.8,614 1266.3,622.5 1271.2,635.8 1257.2,627.9 1243.2,635.8 1248.1,622.5 1234.6,614 1251.6,613.8"/>
<polygon points="1266,595.7 1271.6,608.9 1288.6,609.2 1275,617.6 1280,631 1266,623 1252,631 1256.9,617.6 1243.3,609.2 1260.4,608.9"/>
<polygon points="1274.7,613.3 1280.3,626.5 1297.4,626.8 1283.8,635.2 1288.7,648.6 1274.7,640.6 1260.7,648.6 1265.7,635.2 1252.1,626.8 1269.1,626.5"/>
<polygon points="1283.5,620.8 1289.1,634 1306.1,634.3 1292.5,642.7 1297.5,656.1 1283.5,648.1 1269.5,656.1 1274.4,642.7 1260.9,634.3 1277.9,634"/>
<polygon points="1292.3,628.3 1297.8,641.5 1314.9,641.8 1301.3,650.2 1306.2,663.6 1292.3,655.6 1278.3,663.6 1283.2,650.2 1269.6,641.8 1286.7,641.5"/>
<polygon points="1301,632.1 1306.6,645.3 1323.7,645.6 1310.1,654.1 1315,667.4 1301,659.4 1287,667.4 1292,654.1 1278.4,645.6 1295.4,645.3"/>
<polygon points="1309.8,636 1315.4,649.2 1332.4,649.5 1318.8,657.9 1323.8,671.3 1309.8,663.3 1295.8,671.3 1300.7,657.9 1287.1,649.5 1304.2,649.2"/>
<polygon points="1318.5,639.8 1324.1,653 1341.2,653.3 1327.6,661.8 1332.5,675.1 1318.5,667.1 1304.6,675.1 1309.5,661.8 1295.9,653.3 1312.9,653"/>
<polygon points="1327.3,643.7 1332.9,656.9 1349.9,657.2 1336.4,665.6 1341.3,679 1327.3,671 1313.3,679 1318.3,665.6 1304.7,657.2 1321.7,656.9"/>
<polygon points="1336.1,649.5 1341.7,662.7 1358.7,663 1345.1,671.4 1350.1,684.8 1336.1,676.8 1322.1,684.8 1327,671.4 1313.4,663 1330.5,662.7"/>
<polygon points="1344.8,651.6 1350.4,664.8 1367.5,665 1353.9,673.5 1358.8,686.8 1344.8,678.9 1330.8,686.8 1335.8,673.5 1322.2,665 1339.2,664.8"/>
<polygon points="1353.6,653.6 1359.2,666.8 1376.2,667.1 1362.7,675.5 1367.6,688.9 1353.6,680.9 1339.6,688.9 1344.5,675.5 1331,667.1 1348,666.8"/>
<polygon points="1362.4,655.7 1368,668.9 1385,669.2 1371.4,677.6 1376.3,691 1362.4,683 1348.4,691 1353.3,677.6 1339.7,669.2 1356.8,668.9"/>
<polygon points="1371.1,657.8 1376.7,671 1393.8,671.2 1380.2,679.7 1385.1,693 1371.1,685.1 1357.1,693 1362.1,679.7 1348.5,671.2 1365.5,671"/>
<polygon points="1379.9,638.1 1385.5,651.3 1402.5,651.6 1388.9,660 1393.9,673.4 1379.9,665.4 1365.9,673.4 1370.8,660 1357.3,651.6 1374.3,651.3"/>
<polygon points="1388.6,652.6 1394.2,665.8 1411.3,666.1 1397.7,674.5 1402.6,687.9 1388.6,679.9 1374.7,687.9 1379.6,674.5 1366,666.1 1383.1,665.8"/>
<polygon points="1397.4,659.9 1403,673.1 1420,673.4 1406.5,681.8 1411.4,695.2 1397.4,687.2 1383.4,695.2 1388.4,681.8 1374.8,673.4 1391.8,673.1"/>
<polygon points="1406.2,662.5 1411.8,675.7 1428.8,675.9 1415.2,684.4 1420.2,697.7 1406.2,689.8 1392.2,697.7 1397.1,684.4 1383.5,675.9 1400.6,675.7"/>
<polygon points="1414.9,665 1420.5,678.2 1437.6,678.5 1424,686.9 1428.9,700.3 1414.9,692.3 1401,700.3 1405.9,686.9 1392.3,678.5 1409.3,678.2"/>
<polygon points="1423.7,669.4 1429.3,682.6 1446.3,682.8 1432.8,691.3 1437.7,704.6 1423.7,696.7 1409.7,704.6 1414.6,691.3 1401.1,682.8 1418.1,682.6"/>
<polygon points="1432.5,673.7 1438.1,686.9 1455.1,687.2 1441.5,695.6 1446.5,709 1432.5,701 1418.5,709 1423.4,695.6 1409.8,687.2 1426.9,686.9"/>
<polygon points="1441.2,678.1 1446.8,691.3 1463.9,691.6 1450.3,700 1455.2,713.4 1441.2,705.4 1427.2,713.4 1432.2,700 1418.6,691.6 1435.6,691.3"/>
<polygon points="1450,682.5 1455.6,695.7 1472.6,695.9 1459,704.4 1464,717.7 1450,709.8 1436,717.7 1440.9,704.4 1427.4,695.9 1444.4,695.7"/>
<polygon points="1458.8,686.8 1464.4,700 1481.4,700.3 1467.8,708.7 1472.7,722.1 1458.8,714.1 1444.8,722.1 1449.7,708.7 1436.1,700.3 1453.2,700"/>
<polygon points="1467.5,690.1 1473.1,703.3 1490.2,703.6 1476.6,712 1481.5,725.4 1467.5,717.4 1453.5,725.4 1458.5,712 1444.9,703.6 1461.9,703.3"/>
<polygon points="1476.3,693.4 1481.9,706.6 1498.9,706.9 1485.3,715.3 1490.3,728.7 1476.3,720.7 1462.3,728.7 1467.2,715.3 1453.6,706.9 1470.7,706.6"/>
<polygon points="1485,696.7 1490.6,709.8 1507.7,710.1 1494.1,718.6 1499,731.9 1485,724 1471.1,731.9 1476,718.6 1462.4,710.1 1479.5,709.8"/>
<polygon points="1493.8,699.2 1499.4,712.4 1516.4,712.7 1502.9,721.1 1507.8,734.5 1493.8,726.5 1479.8,734.5 1484.8,721.1 1471.2,712.7 1488.2,712.4"/>
<polygon points="1502.6,701.7 1508.2,714.9 1525.2,715.2 1511.6,723.6 1516.6,737 1502.6,729 1488.6,737 1493.5,723.6 1479.9,715.2 1497,714.9"/>
<polygon points="1511.3,702 1516.9,715.2 1534,715.5 1520.4,723.9 1525.3,737.3 1511.3,729.3 1497.3,737.3 1502.3,723.9 1488.7,715.5 1505.7,715.2"/>
<polygon points="1520.1,702.2 1525.7,715.4 1542.7,715.7 1529.2,724.2 1534.1,737.5 1520.1,729.5 1506.1,737.5 1511,724.2 1497.5,715.7 1514.5,715.4"/>
<polygon points="1528.9,669.7 1534.5,682.9 1551.5,683.1 1537.9,691.6 1542.9,704.9 1528.9,697 1514.9,704.9 1519.8,691.6 1506.2,683.1 1523.3,682.9"/>
<polygon points="1537.6,683.6 1543.2,696.8 1560.3,697.1 1546.7,705.5 1551.6,718.9 1537.6,710.9 1523.6,718.9 1528.6,705.5 1515,697.1 1532,696.8"/>
<polygon points="1546.4,690.9 1552,704.1 1569,704.3 1555.4,712.8 1560.4,726.1 1546.4,718.2 1532.4,726.1 1537.3,712.8 1523.8,704.3 1540.8,704.1"/>
<polygon points="1555.2,696.1 1560.7,709.3 1577.8,709.6 1564.2,718 1569.1,731.4 1555.2,723.4 1541.2,731.4 1546.1,718 1532.5,709.6 1549.6,709.3"/>
<polygon points="1563.9,701.4 1569.5,714.6 1586.6,714.8 1573,723.3 1577.9,736.6 1563.9,728.7 1549.9,736.6 1554.9,723.3 1541.3,714.8 1558.3,714.6"/>
<polygon points="1572.7,706.6 1578.3,719.8 1595.3,720.1 1581.7,728.5 1586.7,741.9 1572.7,733.9 1558.7,741.9 1563.6,728.5 1550,720.1 1567.1,719.8"/>
<polygon points="1581.4,711.9 1587,725.1 1604.1,725.3 1590.5,733.8 1595.4,747.1 1581.4,739.2 1567.5,747.1 1572.4,733.8 1558.8,725.3 1575.8,725.1"/>
<polygon points="1590.2,714.3 1595.8,727.5 1612.8,727.8 1599.3,736.2 1604.2,749.6 1590.2,741.6 1576.2,749.6 1581.2,736.2 1567.6,727.8 1584.6,727.5"/>
<polygon points="1599,716.7 1604.6,729.9 1621.6,730.2 1608,738.6 1613,752 1599,744 1585,752 1589.9,738.6 1576.3,730.2 1593.4,729.9"/>
<polygon points="1607.7,719.2 1613.3,732.3 1630.4,732.6 1616.8,741.1 1621.7,754.4 1607.7,746.5 1593.7,754.4 1598.7,741.1 1585.1,732.6 1602.1,732.3"/>
<polygon points="1616.5,721.6 1622.1,734.8 1639.1,735.1 1625.6,743.5 1630.5,756.9 1616.5,748.9 1602.5,756.9 1607.4,743.5 1593.9,735.1 1610.9,734.8"/>
<polygon points="1625.3,724.4 1630.9,737.6 1647.9,737.9 1634.3,746.3 1639.2,759.7 1625.3,751.7 1611.3,759.7 1616.2,746.3 1602.6,737.9 1619.7,737.6"/>
<polygon points="1634,727.3 1639.6,740.5 1656.7,740.7 1643.1,749.2 1648,762.5 1634,754.6 1620,762.5 1625,749.2 1611.4,740.7 1628.4,740.5"/>
<polygon points="1642.8,733 1648.4,746.2 1665.4,746.4 1651.8,754.9 1656.8,768.2 1642.8,760.3 1628.8,768.2 1633.7,754.9 1620.2,746.4 1637.2,746.2"/>
<polygon points="1651.5,735.8 1657.1,748.9 1674.2,749.2 1660.6,757.7 1665.5,771 1651.5,763.1 1637.6,771 1642.5,757.7 1628.9,749.2 1646,748.9"/>
<polygon points="1660.3,737.4 1665.9,750.6 1682.9,750.9 1669.4,759.3 1674.3,772.7 1660.3,764.7 1646.3,772.7 1651.3,759.3 1637.7,750.9 1654.7,750.6"/>
<polygon points="1669.1,716.4 1674.7,729.6 1691.7,729.9 1678.1,738.3 1683.1,751.7 1669.1,743.7 1655.1,751.7 1660,738.3 1646.4,729.9 1663.5,729.6"/>
<polygon points="1677.8,706.2 1683.4,719.4 1700.5,719.6 1686.9,728.1 1691.8,741.4 1677.8,733.5 1663.9,741.4 1668.8,728.1 1655.2,719.6 1672.2,719.4"/>
</g></g>
<g fill="none" stroke="#902A90" stroke-miterlimit="10">
<polyline stroke-width="5.8" stroke-linejoin="round" points="214.4,289.3 223.1,300.3 231.9,303.8 240.7,312.7 249.4,312.1 258.2,318.8 266.9,325.6 275.7,332.3 284.5,340.4 293.2,321.8 302,330.8 310.8,339.8 319.5,348.8 328.3,357.9 337.1,366.9 345.8,374.2 354.6,381.5 363.3,388.8 372.1,396.1 380.9,409.7 389.6,424.9 398.4,439.4 407.2,433.7 415.9,440.9 424.7,397.5 433.4,410.2 442.2,422.9 451,435.7 459.7,444 468.5,452.3 477.3,460.6 486,468.9 494.8,479 503.6,489.1 512.3,499.2 521.1,508.6 529.8,518.1 538.6,527.6 547.4,537 556.1,473.6 564.9,497.8 573.7,513.3 582.4,528.3 591.2,542.8 600,557.3 608.7,420.8 617.5,444 626.2,464.7 635,477.1 643.8,487.5 652.5,483.3 661.3,510.2 670.1,520.6 678.8,533.5 687.6,545.9 696.3,476 705.1,509.8 713.9,535.7 722.6,557.8 731.4,569.2 740.2,580.6 748.9,592.5 757.7,599.9 766.5,609.4 775.2,618.8 784,627.1 792.7,635.5 801.5,643.8 810.3,652.1 819,660.4 827.8,620.7 836.6,642.1 845.3,655.3 854.1,664.1 862.9,671.5 871.6,672.6 880.4,681.7 889.1,691.2 897.9,700.5 906.7,709.5 915.4,703.6 924.2,710.9 933,717.1 941.7,723.3 950.5,728.5 959.2,687.4 968,701.3 976.8,715.3 985.5,729.2 994.3,743.2 1003.1,703.4 1011.8,725.4 1020.6,738.8 1029.4,746 1038.1,752.3 1046.9,750.5 1055.6,757.4 1064.4,764.7 1073.2,771.9 1081.9,779.1 1090.7,775.3 1099.5,782.2 1108.2,790 1117,797.8 1125.8,803.5 1134.5,697 1143.3,706.8 1152,716.6 1160.8,726.5 1169.6,736.3 1178.3,746.1 1187.1,755.9 1195.9,765.7 1204.6,768.8 1213.4,770.9 1222.1,769.8 1230.9,781 1239.7,792.1 1248.4,803.3 1257.2,814.4 1266,731.3 1274.7,745.9 1283.5,760.6 1292.3,775.2 1301,789.9 1309.8,780.2 1318.5,787.3 1327.3,794.4 1336.1,801.5 1344.8,808.6"/>
<g stroke-width="6.4">
<path d="M214.4 273.3l14 16l-14 16l-14 -16z"/>
<path d="M223.1 284.3l14 16l-14 16l-14 -16z"/>
<path d="M231.9 287.8l14 16l-14 16l-14 -16z"/>
<path d="M240.7 296.7l14 16l-14 16l-14 -16z"/>
<path d="M249.4 296.1l14 16l-14 16l-14 -16z"/>
<path d="M258.2 302.8l14 16l-14 16l-14 -16z"/>
<path d="M266.9 309.6l14 16l-14 16l-14 -16z"/>
<path d="M275.7 316.3l14 16l-14 16l-14 -16z"/>
<path d="M284.5 324.4l14 16l-14 16l-14 -16z"/>
<path d="M293.2 305.8l14 16l-14 16l-14 -16z"/>
<path d="M302 314.8l14 16l-14 16l-14 -16z"/>
<path d="M310.8 323.8l14 16l-14 16l-14 -16z"/>
<path d="M319.5 332.8l14 16l-14 16l-14 -16z"/>
<path d="M328.3 341.9l14 16l-14 16l-14 -16z"/>
<path d="M337.1 350.9l14 16l-14 16l-14 -16z"/>
<path d="M345.8 358.2l14 16l-14 16l-14 -16z"/>
<path d="M354.6 365.5l14 16l-14 16l-14 -16z"/>
<path d="M363.3 372.8l14 16l-14 16l-14 -16z"/>
<path d="M372.1 380.1l14 16l-14 16l-14 -16z"/>
<path d="M380.9 393.7l14 16l-14 16l-14 -16z"/>
<path d="M389.6 408.9l14 16l-14 16l-14 -16z"/>
<path d="M398.4 423.4l14 16l-14 16l-14 -16z"/>
<path d="M407.2 417.7l14 16l-14 16l-14 -16z"/>
<path d="M415.9 424.9l14 16l-14 16l-14 -16z"/>
<path d="M424.7 381.5l14 16l-14 16l-14 -16z"/>
<path d="M433.4 394.2l14 16l-14 16l-14 -16z"/>
<path d="M442.2 406.9l14 16l-14 16l-14 -16z"/>
<path d="M451 419.7l14 16l-14 16l-14 -16z"/>
<path d="M459.7 428l14 16l-14 16l-14 -16z"/>
<path d="M468.5 436.3l14 16l-14 16l-14 -16z"/>
<path d="M477.3 444.6l14 16l-14 16l-14 -16z"/>
<path d="M486 452.9l14 16l-14 16l-14 -16z"/>
<path d="M494.8 463l14 16l-14 16l-14 -16z"/>
<path d="M503.6 473.1l14 16l-14 16l-14 -16z"/>
<path d="M512.3 483.2l14 16l-14 16l-14 -16z"/>
<path d="M521.1 492.6l14 16l-14 16l-14 -16z"/>
<path d="M529.8 502.1l14 16l-14 16l-14 -16z"/>
<path d="M538.6 511.6l14 16l-14 16l-14 -16z"/>
<path d="M547.4 521l14 16l-14 16l-14 -16z"/>
<path d="M556.1 457.6l14 16l-14 16l-14 -16z"/>
<path d="M564.9 481.8l14 16l-14 16l-14 -16z"/>
<path d="M573.7 497.3l14 16l-14 16l-14 -16z"/>
<path d="M582.4 512.3l14 16l-14 16l-14 -16z"/>
<path d="M591.2 526.8l14 16l-14 16l-14 -16z"/>
<path d="M600 541.3l14 16l-14 16l-14 -16z"/>
<path d="M608.7 404.8l14 16l-14 16l-14 -16z"/>
<path d="M617.5 428l14 16l-14 16l-14 -16z"/>
<path d="M626.2 448.7l14 16l-14 16l-14 -16z"/>
<path d="M635 461.1l14 16l-14 16l-14 -16z"/>
<path d="M643.8 471.5l14 16l-14 16l-14 -16z"/>
<path d="M652.5 467.3l14 16l-14 16l-14 -16z"/>
<path d="M661.3 494.2l14 16l-14 16l-14 -16z"/>
<path d="M670.1 504.6l14 16l-14 16l-14 -16z"/>
<path d="M678.8 517.5l14 16l-14 16l-14 -16z"/>
<path d="M687.6 529.9l14 16l-14 16l-14 -16z"/>
<path d="M696.3 460l14 16l-14 16l-14 -16z"/>
<path d="M705.1 493.8l14 16l-14 16l-14 -16z"/>
<path d="M713.9 519.7l14 16l-14 16l-14 -16z"/>
<path d="M722.6 541.8l14 16l-14 16l-14 -16z"/>
<path d="M731.4 553.2l14 16l-14 16l-14 -16z"/>
<path d="M740.2 564.6l14 16l-14 16l-14 -16z"/>
<path d="M748.9 576.5l14 16l-14 16l-14 -16z"/>
<path d="M757.7 583.9l14 16l-14 16l-14 -16z"/>
<path d="M766.5 593.4l14 16l-14 16l-14 -16z"/>
<path d="M775.2 602.8l14 16l-14 16l-14 -16z"/>
<path d="M784 611.1l14 16l-14 16l-14 -16z"/>
<path d="M792.7 619.5l14 16l-14 16l-14 -16z"/>
<path d="M801.5 627.8l14 16l-14 16l-14 -16z"/>
<path d="M810.3 636.1l14 16l-14 16l-14 -16z"/>
<path d="M819 644.4l14 16l-14 16l-14 -16z"/>
<path d="M827.8 604.7l14 16l-14 16l-14 -16z"/>
<path d="M836.6 626.1l14 16l-14 16l-14 -16z"/>
<path d="M845.3 639.3l14 16l-14 16l-14 -16z"/>
<path d="M854.1 648.1l14 16l-14 16l-14 -16z"/>
<path d="M862.9 655.5l14 16l-14 16l-14 -16z"/>
<path d="M871.6 656.6l14 16l-14 16l-14 -16z"/>
<path d="M880.4 665.7l14 16l-14 16l-14 -16z"/>
<path d="M889.1 675.2l14 16l-14 16l-14 -16z"/>
<path d="M897.9 684.5l14 16l-14 16l-14 -16z"/>
<path d="M906.7 693.5l14 16l-14 16l-14 -16z"/>
<path d="M915.4 687.6l14 16l-14 16l-14 -16z"/>
<path d="M924.2 694.9l14 16l-14 16l-14 -16z"/>
<path d="M933 701.1l14 16l-14 16l-14 -16z"/>
<path d="M941.7 707.3l14 16l-14 16l-14 -16z"/>
<path d="M950.5 712.5l14 16l-14 16l-14 -16z"/>
<path d="M959.2 671.4l14 16l-14 16l-14 -16z"/>
<path d="M968 685.3l14 16l-14 16l-14 -16z"/>
<path d="M976.8 699.3l14 16l-14 16l-14 -16z"/>
<path d="M985.5 713.2l14 16l-14 16l-14 -16z"/>
<path d="M994.3 727.2l14 16l-14 16l-14 -16z"/>
<path d="M1003.1 687.4l14 16l-14 16l-14 -16z"/>
<path d="M1011.8 709.4l14 16l-14 16l-14 -16z"/>
<path d="M1020.6 722.8l14 16l-14 16l-14 -16z"/>
<path d="M1029.4 730l14 16l-14 16l-14 -16z"/>
<path d="M1038.1 736.3l14 16l-14 16l-14 -16z"/>
<path d="M1046.9 734.5l14 16l-14 16l-14 -16z"/>
<path d="M1055.6 741.4l14 16l-14 16l-14 -16z"/>
<path d="M1064.4 748.7l14 16l-14 16l-14 -16z"/>
<path d="M1073.2 755.9l14 16l-14 16l-14 -16z"/>
<path d="M1081.9 763.1l14 16l-14 16l-14 -16z"/>
<path d="M1090.7 759.3l14 16l-14 16l-14 -16z"/>
<path d="M1099.5 766.2l14 16l-14 16l-14 -16z"/>
<path d="M1108.2 774l14 16l-14 16l-14 -16z"/>
<path d="M1117 781.8l14 16l-14 16l-14 -16z"/>
<path d="M1125.8 787.5l14 16l-14 16l-14 -16z"/>
<path d="M1134.5 681l14 16l-14 16l-14 -16z"/>
<path d="M1143.3 690.8l14 16l-14 16l-14 -16z"/>
<path d="M1152 700.6l14 16l-14 16l-14 -16z"/>
<path d="M1160.8 710.5l14 16l-14 16l-14 -16z"/>
<path d="M1169.6 720.3l14 16l-14 16l-14 -16z"/>
<path d="M1178.3 730.1l14 16l-14 16l-14 -16z"/>
<path d="M1187.1 739.9l14 16l-14 16l-14 -16z"/>
<path d="M1195.9 749.7l14 16l-14 16l-14 -16z"/>
<path d="M1204.6 752.8l14 16l-14 16l-14 -16z"/>
<path d="M1213.4 754.9l14 16l-14 16l-14 -16z"/>
<path d="M1222.1 753.8l14 16l-14 16l-14 -16z"/>
<path d="M1230.9 765l14 16l-14 16l-14 -16z"/>
<path d="M1239.7 776.1l14 16l-14 16l-14 -16z"/>
<path d="M1248.4 787.3l14 16l-14 16l-14 -16z"/>
<path d="M1257.2 798.4l14 16l-14 16l-14 -16z"/>
<path d="M1266 715.3l14 16l-14 16l-14 -16z"/>
<path d="M1274.7 729.9l14 16l-14 16l-14 -16z"/>
<path d="M1283.5 744.6l14 16l-14 16l-14 -16z"/>
<path d="M1292.3 759.2l14 16l-14 16l-14 -16z"/>
<path d="M1301 773.9l14 16l-14 16l-14 -16z"/>
<path d="M1309.8 764.2l14 16l-14 16l-14 -16z"/>
<path d="M1318.5 771.3l14 16l-14 16l-14 -16z"/>
<path d="M1327.3 778.4l14 16l-14 16l-14 -16z"/>
<path d="M1336.1 785.5l14 16l-14 16l-14 -16z"/>
<path d="M1344.8 792.6l14 16l-14 16l-14 -16z"/>
</g></g>
<path d="M214.4 779.1H1677.8" stroke="#000" stroke-width="10.6" fill="none"/>
<path d="M1081.2 779.1V1068.4" stroke="#FF0000" stroke-width="10.8" stroke-dasharray="25.6 23.4" fill="none"/>
<path d="M1195.2 779.1V1068.4" stroke="#FF0000" stroke-width="10.8" stroke-dasharray="25.6 23.4" fill="none"/>
<path d="M1335.4 779.1V1068.4" stroke="#FF0000" stroke-width="10.8" stroke-dasharray="25.6 23.4" fill="none"/>
<text transform="translate(994.5 965.8) scale(1.15 1)" font-size="52.8" text-anchor="middle" class="k">100</text>
<text transform="translate(1134 965.8) scale(1.15 1)" font-size="52.8" text-anchor="middle" class="k">113</text>
<text transform="translate(1261 965.8) scale(1.15 1)" font-size="52.8" text-anchor="middle" class="k">129</text>
<path d="M1073.5 1061.5L1026.7 1022.7" stroke="#000" stroke-width="4.2" fill="none"/><path d="M999.9 999.9L1049.9 1019.6L1026.7 1022.7L1022.6 1041.9z" fill="#000"/>
<path d="M1197.7 1058.5L1151.3 1019.4" stroke="#000" stroke-width="4.2" fill="none"/><path d="M1124.5 996.6L1173.9 1015.6L1151.3 1019.4L1145.4 1038.6z" fill="#000"/>
<path d="M1324.3 1061.5L1278.5 1022.9" stroke="#000" stroke-width="4.2" fill="none"/><path d="M1251.7 1000.1L1300.8 1019.6L1278.5 1022.9L1273.6 1041.3z" fill="#000"/>
<rect x="1212.2" y="35.1" width="570.4" height="422.8" fill="#fff" stroke="#1c1c1c" stroke-width="3.9"/>
<g fill="none" stroke="#0070C0" stroke-miterlimit="10">
<path stroke-width="5.8" d="M1226 73.9H1373.1"/>
<g stroke-width="6.3"><ellipse cx="1299.8" cy="73.9" rx="14.8" ry="12.5"/></g></g>
<text transform="translate(1382.7 94.7) scale(1.187 1)" font-size="52.8" text-anchor="start" class="k">Battery No.5</text>
<g fill="none" stroke="#F7500A" stroke-miterlimit="10">
<path stroke-width="5.8" d="M1226 143H1373.1"/>
<g stroke-width="5.9"><path d="M1284.8 143h29.9M1299.8 130.1v25.8"/></g></g>
<text transform="translate(1382.7 163.8) scale(1.187 1)" font-size="52.8" text-anchor="start" class="k">Battery No.6</text>
<g fill="none" stroke="#FFB000" stroke-miterlimit="10">
<path stroke-width="5.8" d="M1226 211.9H1373.1"/>
<g fill="#FFB000" stroke="none"><polygon points="1299.5,192.4 1305.1,205.6 1322.1,205.9 1308.6,214.3 1313.5,227.7 1299.5,219.7 1285.5,227.7 1290.4,214.3 1276.9,205.9 1293.9,205.6"/></g></g>
<text transform="translate(1382.7 232.7) scale(1.187 1)" font-size="52.8" text-anchor="start" class="k">Battery No.7</text>
<g fill="none" stroke="#902A90" stroke-miterlimit="10">
<path stroke-width="5.8" d="M1226 280.5H1373.1"/>
<g stroke-width="5.8"><path d="M1299.8 264.3l12.2 16.2l-12.2 16.2l-12.2 -16.2z"/></g></g>
<text transform="translate(1382.7 301.3) scale(1.187 1)" font-size="52.8" text-anchor="start" class="k">Battery No.18</text>
<path d="M1226 349.6H1373.1" stroke="#000" stroke-width="10.6" fill="none"/>
<text transform="translate(1382.7 370.4) scale(1.187 1)" font-size="52.8" text-anchor="start" class="k">Threshold</text>
<path d="M1226 418.6H1373.1" stroke="#FF0000" stroke-width="9" stroke-dasharray="30.4 28.2" fill="none"/>
<text transform="translate(1382.7 439.4) scale(1.187 1)" font-size="52.8" text-anchor="start" class="k">End of life</text>
<text transform="translate(205.2 1142) scale(1.15 1)" font-size="52.8" text-anchor="middle">0</text>
<text transform="translate(379.3 1142) scale(1.15 1)" font-size="52.8" text-anchor="middle">20</text>
<text transform="translate(554.5 1142) scale(1.15 1)" font-size="52.8" text-anchor="middle">40</text>
<text transform="translate(729.8 1142) scale(1.15 1)" font-size="52.8" text-anchor="middle">60</text>
<text transform="translate(905.1 1142) scale(1.15 1)" font-size="52.8" text-anchor="middle">80</text>
<text transform="translate(1082.5 1142) scale(1.15 1)" font-size="52.8" text-anchor="middle">100</text>
<text transform="translate(1257.8 1142) scale(1.15 1)" font-size="52.8" text-anchor="middle">120</text>
<text transform="translate(1433.1 1142) scale(1.15 1)" font-size="52.8" text-anchor="middle">140</text>
<text transform="translate(1608.3 1142) scale(1.15 1)" font-size="52.8" text-anchor="middle">160</text>
<text transform="translate(1783.6 1142) scale(1.15 1)" font-size="52.8" text-anchor="middle">180</text>
<text transform="translate(179 986.5) scale(1.15 1)" font-size="52.8" text-anchor="end">1.2</text>
<text transform="translate(179 779.7) scale(1.15 1)" font-size="52.8" text-anchor="end">1.4</text>
<text transform="translate(179 572.8) scale(1.15 1)" font-size="52.8" text-anchor="end">1.6</text>
<text transform="translate(179 365.9) scale(1.15 1)" font-size="52.8" text-anchor="end">1.8</text>
<text transform="translate(179 159.1) scale(1.15 1)" font-size="52.8" text-anchor="end">2</text>
<text transform="translate(993.5 1215.2) scale(1.187 1)" font-size="52.8" text-anchor="middle">Cycle</text>
<text transform="translate(62.5 553.5) scale(1.187 1) rotate(-90)" font-size="52.8" text-anchor="middle">Capacity/Ah</text>
</svg></body></html>
